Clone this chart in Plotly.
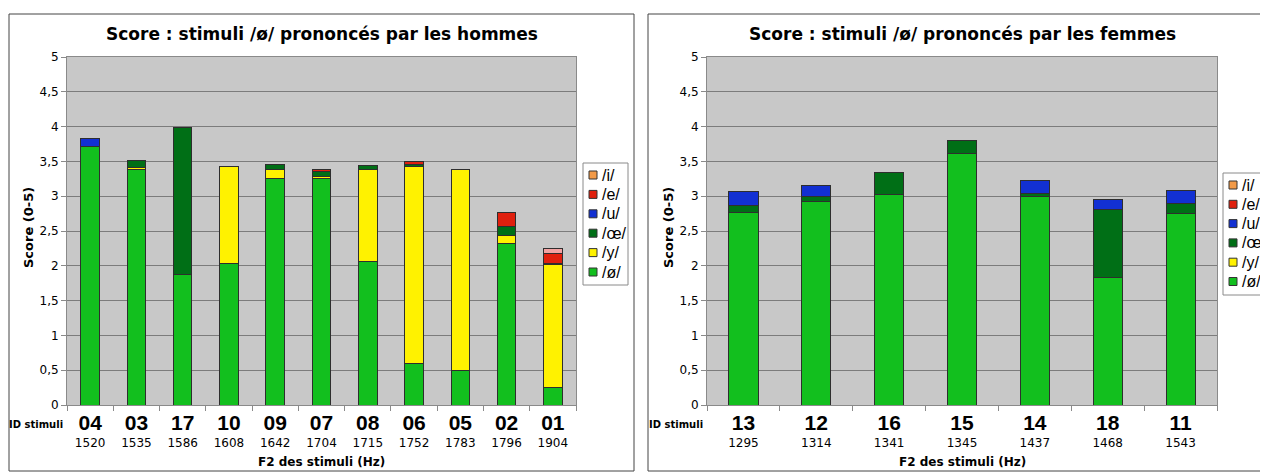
import plotly.graph_objects as go

# ---------------- data ----------------
# Men (hommes)
ids_h = ["04", "03", "17", "10", "09", "07", "08", "06", "05", "02", "01"]
freq_h = ["1520", "1535", "1586", "1608", "1642", "1704", "1715", "1752", "1783", "1796", "1904"]
h_oslash = [3.71, 3.38, 1.87, 2.03, 3.26, 3.26, 2.06, 0.60, 0.50, 2.32, 0.25]
h_y = [None, 0.03, None, 1.39, 0.12, 0.02, 1.32, 2.83, 2.89, 0.12, 1.77]
h_oe = [None, 0.11, 2.11, None, 0.08, 0.07, 0.06, 0.02, None, 0.12, 0.02]
h_u = [0.12, None, None, None, None, None, None, None, None, None, None]
h_e = [None, None, None, None, None, 0.03, None, 0.05, None, 0.21, 0.13]
h_i = [None, None, None, None, None, None, None, None, None, None, 0.08]

# Women (femmes)
ids_f = ["13", "12", "16", "15", "14", "18", "11"]
freq_f = ["1295", "1314", "1341", "1345", "1437", "1468", "1543"]
f_oslash = [2.76, 2.92, 3.02, 3.62, 2.99, 1.83, 2.75]
f_y = [None] * 7
f_oe = [0.10, 0.07, 0.32, 0.18, 0.05, 0.98, 0.14]
f_u = [0.21, 0.17, None, None, 0.19, 0.14, 0.19]
f_e = [None] * 7
f_i = [None] * 7

series_names = ["/ø/", "/y/", "/œ/", "/u/", "/e/", "/i/"]
colors = {
    "/ø/": "#12bf1e",
    "/y/": "#fff200",
    "/œ/": "#006f16",
    "/u/": "#1230d2",
    "/e/": "#e0200e",
    "/i/": "#f29a48",
}
title_h = "Score : stimuli /ø/ prononcés par les hommes"
title_f = "Score : stimuli /ø/ prononcés par les femmes"

# page offset of the figure (browser body margin) and figure size
OFF = 8
W, H = 1260, 464


def px(x):  # screen x -> paper
    return (x - OFF) / W


def py(y):  # screen y -> paper
    return 1 - (y - OFF) / H


fig = go.Figure()

sets = [
    ("x", "y", ids_h, [h_oslash, h_y, h_oe, h_u, h_e, h_i]),
    ("x2", "y2", ids_f, [f_oslash, f_y, f_oe, f_u, f_e, f_i]),
]
for xa, ya, ids, vals in sets:
    for name, v in zip(series_names, vals):
        col = colors[name]
        if name == "/i/" and xa == "x":
            # the single /i/ segment of stimulus 01 appears in a light pink tone
            col = [colors[name]] * (len(ids) - 1) + ["#f3a2a2"]
        fig.add_trace(go.Bar(
            x=ids, y=v, name=name, xaxis=xa, yaxis=ya, showlegend=False,
            marker=dict(color=col, line=dict(color="#2e2e2e", width=1)),
        ))


def ticks(ids, freqs):
    return [f"<b><span style='font-size:21px'>{i}</span></b><br>"
            f"<span style='font-size:12px;font-family:DejaVu Sans'>{f}</span>"
            for i, f in zip(ids, freqs)]


ydom = [py(405), py(57)]
common_x = dict(
    type="category", showline=True, linecolor="#8a8a8a", linewidth=1, mirror=True,
    ticks="outside", tickson="boundaries", ticklen=5, tickcolor="#8a8a8a",
    ticklabelstandoff=8,
    tickfont=dict(family="Liberation Sans, Arial", size=13, color="#000"),
    showgrid=False, fixedrange=True,
)
common_y = dict(
    range=[0, 5], dtick=0.5, showline=True, linecolor="#8a8a8a", linewidth=1, mirror=True,
    ticks="outside", ticklen=5, tickcolor="#8a8a8a",
    tickfont=dict(family="DejaVu Sans", size=12, color="#000"),
    showgrid=True, gridcolor="#7c7c7c", gridwidth=1, zeroline=False, domain=ydom,
)

fig.update_layout(
    width=W, height=H,
    margin=dict(l=0, r=0, t=0, b=0, autoexpand=False),
    paper_bgcolor="white", plot_bgcolor="#c8c8c8",
    separators=", ",
    barmode="stack", bargap=0.6,
    showlegend=False,
    xaxis=dict(domain=[px(67), px(576)], anchor="y", tickvals=ids_h,
               ticktext=ticks(ids_h, freq_h), **common_x),
    yaxis=dict(anchor="x", **common_y),
    xaxis2=dict(domain=[px(707), px(1217)], anchor="y2", tickvals=ids_f,
                ticktext=ticks(ids_f, freq_f), **common_x),
    yaxis2=dict(anchor="x2", **common_y),
    font=dict(family="DejaVu Sans", color="#000"),
)

shapes = []
annos = []
# frames around each chart
for x0, x1 in [(9, 634), (648, 1290)]:
    shapes.append(dict(type="rect", xref="paper", yref="paper", x0=px(x0), x1=px(x1),
                       y0=py(471), y1=py(14), line=dict(color="#444", width=1), layer="below"))

for cx, t, yt_x, id_x in [((67 + 576) / 2, title_h, 28, 36), ((707 + 1217) / 2, title_f, 668, 676)]:
    annos.append(dict(text=f"<b>{t}</b>", x=px(cx), y=py(34), xref="paper", yref="paper",
                      xanchor="center", yanchor="middle", showarrow=False,
                      font=dict(family="DejaVu Sans", size=17)))
    annos.append(dict(text="<b>Score (0-5)</b>", x=px(yt_x), y=py(228), xref="paper", yref="paper",
                      xanchor="center", yanchor="middle", showarrow=False, textangle=-90,
                      font=dict(family="DejaVu Sans", size=13)))
    annos.append(dict(text="<b>F2 des stimuli (Hz)</b>", x=px(cx), y=py(462), xref="paper", yref="paper",
                      xanchor="center", yanchor="middle", showarrow=False,
                      font=dict(family="DejaVu Sans", size=12)))
    annos.append(dict(text="<b>ID stimuli</b>", x=px(id_x), y=py(424), xref="paper", yref="paper",
                      xanchor="center", yanchor="middle", showarrow=False,
                      font=dict(family="DejaVu Sans", size=10)))

# legends (one per chart), listed top to bottom
legend_order = ["/i/", "/e/", "/u/", "/œ/", "/y/", "/ø/"]
for bx0, bx1, by0, by1, first_y, step in [(583, 628, 163, 285, 175, 19.4),
                                          (1223, 1300, 173, 295, 185, 19.3)]:
    shapes.append(dict(type="rect", xref="paper", yref="paper", x0=px(bx0), x1=px(bx1),
                       y0=py(by1), y1=py(by0), line=dict(color="#8a8a8a", width=1),
                       fillcolor="white", layer="above"))
    for k, name in enumerate(legend_order):
        yc = first_y + k * step
        shapes.append(dict(type="rect", xref="paper", yref="paper",
                           x0=px(bx0 + 6), x1=px(bx0 + 14), y0=py(yc + 4), y1=py(yc - 4),
                           fillcolor=colors[name], line=dict(color="#333", width=1), layer="above"))
        annos.append(dict(text=name, x=px(bx0 + 17), y=py(yc), xref="paper", yref="paper",
                          xanchor="left", yanchor="middle", showarrow=False,
                          font=dict(family="Liberation Sans, Arial", size=16, color="#000")))

fig.update_layout(shapes=shapes, annotations=annos)

fig.write_html("out.html")
